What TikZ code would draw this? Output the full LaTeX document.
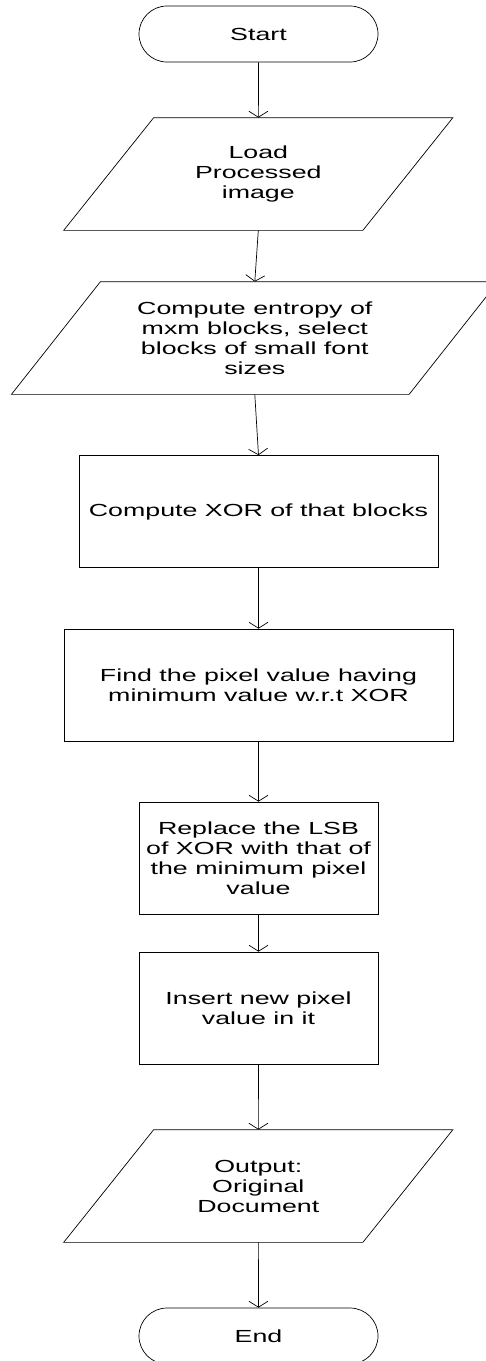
\documentclass[tikz,border=0pt]{standalone}
\usepackage{fontspec}
\setmainfont{Liberation Sans}[FakeStretch=1.53]
\usetikzlibrary{arrows.meta}

\begin{document}
\begin{tikzpicture}[x=1pt,y=-1pt,line width=0.7pt,
    >={Straight Barb[length=6pt,width=19pt]},
    every node/.style={font=\fontsize{17.5}{20}\selectfont,align=center,inner sep=0pt},
    term/.style={draw,rectangle,rounded corners=28pt,minimum width=239pt,minimum height=56pt},
    io/.style={rectangle,minimum height=112pt},
    proc/.style={draw,rectangle,minimum height=112pt}]
    \useasboundingbox (0,0) rectangle (486,1361);
    \node[term] (start) at (258.5,34) {Start};
    \node[io,minimum width=298.5pt] (load) at (258.3,174) {Load\\Processed\\image};
    \node[io,minimum width=397pt] (entropy) at (254.8,338) {Compute entropy of\\mxm blocks, select\\blocks of small font\\sizes};
    \node[proc,minimum width=359pt] (xor) at (258.5,511.5) {Compute XOR of that blocks};
    \node[proc,minimum width=389pt] (find) at (258.5,685) {Find the pixel value having\\minimum value w.r.t XOR};
    \node[proc,minimum width=239pt] (lsb) at (258.5,858) {Replace the LSB\\of XOR with that of\\the minimum pixel\\value};
    \node[proc,minimum width=239pt] (insert) at (258.5,1008) {Insert new pixel\\value in it};
    \node[io,minimum width=298.5pt] (output) at (258.3,1186) {Output:\\Original\\Document};
    \node[term] (end) at (258.5,1336) {End};
    \foreach \n/\s in {load/45,entropy/44.5,output/45}
        \draw ([xshift=\s pt]\n.north west) -- ([xshift=\s pt]\n.north east)
            -- ([xshift=-\s pt]\n.south east) -- ([xshift=-\s pt]\n.south west) -- cycle;
    \draw[->] (start) -- (load);
    \draw[->] (load.south) -- (entropy.north);
    \draw[->] (entropy.south) -- (xor.north);
    \draw[->] (xor) -- (find);
    \draw[->] (find) -- (lsb);
    \draw[->] (lsb) -- (insert);
    \draw[->] (insert) -- (output);
    \draw[->] (output) -- (end);
\end{tikzpicture}
\end{document}
